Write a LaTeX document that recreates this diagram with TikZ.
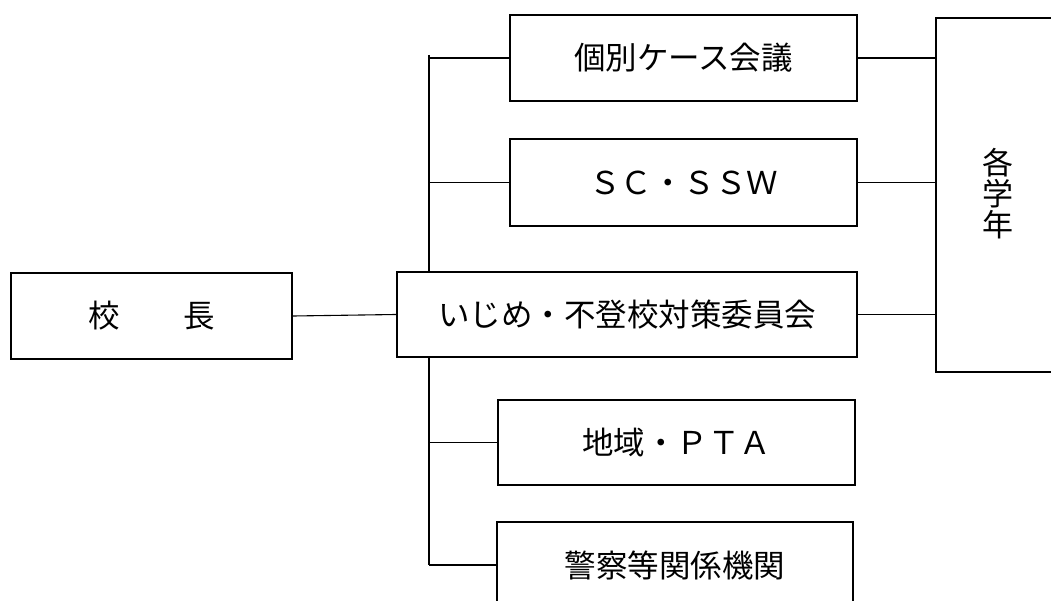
\documentclass[tikz,border=0pt]{standalone}
\usepackage{fontspec}
\setmainfont{Noto Sans CJK JP}
\begin{document}
\begin{tikzpicture}[x=1pt,y=-1pt,
  box/.style={draw,line width=2.2pt,inner sep=0pt,font=\fontsize{31.5}{33}\selectfont},
  conn/.style={line width=1.1pt}]
\useasboundingbox (0,0) rectangle (1051,601);
\clip (0,0) rectangle (1051,601);
\node[box,minimum width=281pt,minimum height=86pt] (kocho) at (151.5,316) {校　　長};
\node[box,minimum width=460pt,minimum height=85pt] (iinkai) at (627,314.5) {いじめ・不登校対策委員会};
\node[box,minimum width=347pt,minimum height=86pt] (kobetsu) at (683.5,58) {個別ケース会議};
\node[box,minimum width=347pt,minimum height=87pt] (sc) at (683.5,182.5) {ＳＣ・ＳＳＷ};
\node[box,minimum width=357pt,minimum height=85pt] (chiiki) at (676.5,442.5) {地域・ＰＴＡ};
\node[box,minimum width=356pt,minimum height=86pt] (keisatsu) at (675,565) {警察等関係機関};
\node[box,minimum width=160pt,minimum height=354pt,anchor=north west] (gakunen) at (935,17) {};
\node[font=\fontsize{31}{31}\selectfont,align=center,inner sep=0pt] (gakunentxt) at (998,194) {各\\学\\年};
\coordinate (vt) at (429,55);
\coordinate (vb) at (429,565);
\draw[conn] (kocho.east) -- (iinkai.west);
\draw[conn] (vt) -- (iinkai.north -| vt);
\draw[conn] (iinkai.south -| vt) -- (vb);
\draw[conn] (kobetsu.west -| vt) -- (kobetsu.west);
\draw[conn] (sc.west -| vt) -- (sc.west);
\draw[conn] (chiiki.west -| vt) -- (chiiki.west);
\draw[conn] (vb) -- (keisatsu.west);
\draw[conn] (kobetsu.east) -- (kobetsu.east -| gakunen.west);
\draw[conn] (sc.east) -- (sc.east -| gakunen.west);
\draw[conn] (iinkai.east) -- (iinkai.east -| gakunen.west);
\end{tikzpicture}
\end{document}
